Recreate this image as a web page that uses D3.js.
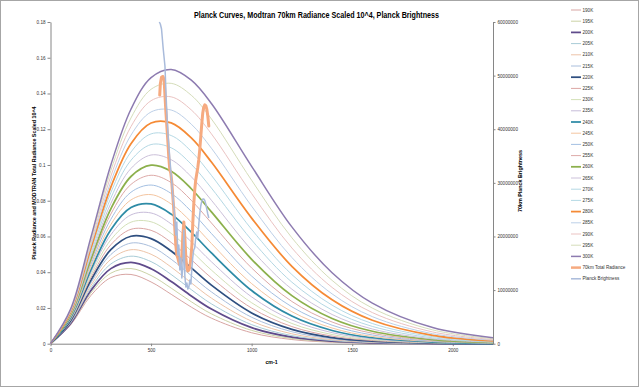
<!DOCTYPE html>
<html><head><meta charset="utf-8">
<script src="https://cdn.jsdelivr.net/npm/d3@7"></script>
<style>body{margin:0;background:#fff}svg{display:block}</style>
</head><body>
<svg id="chart" width="639" height="387"></svg>
<script>
// ---------- data ----------
const wavenumbers = [0,100,200,300,400,500,600,700,800,1000,1200,1400,1600,1900,2200];
const temperatures = ["190K","195K","200K","205K","210K","215K","220K","225K","230K","235K","240K","245K","250K","255K","260K","265K","270K","275K","280K","285K","290K","295K","300K"];
const p190 = [0,0.010517,0.026860,0.036976,0.038736,0.034547,0.027654,0.020476,0.014296,0.006129,0.0023281,0.00081294,0.00026686,0.00004608,0.00000738];
const p195 = [0,0.010912,0.028239,0.039466,0.042037,0.038159,0.031112,0.023474,0.016704,0.0074432,0.0029391,0.0010669,0.00036408,0.00006665,0.00001131];
const p200 = [0,0.011308,0.029630,0.042005,0.045449,0.041950,0.034803,0.026731,0.019369,0.0089520,0.0036674,0.0013813,0.00048907,0.000094618,0.00001697];
const p205 = [0,0.011705,0.031033,0.044590,0.048965,0.045915,0.038725,0.030251,0.022299,0.010671,0.0045271,0.0017659,0.00064758,0.00013206,0.000024965];
const p210 = [0,0.012103,0.032447,0.047219,0.052583,0.050051,0.042877,0.034035,0.025501,0.012613,0.0055325,0.0022314,0.00084609,0.00018140,0.000036058];
const p215 = [0,0.012501,0.033871,0.049890,0.056300,0.054353,0.047257,0.038089,0.028985,0.014795,0.0066987,0.0027891,0.0010918,0.00024555,0.000051196];
const p220 = [0,0.012901,0.035305,0.052600,0.060110,0.058817,0.051863,0.042412,0.032755,0.017229,0.0080405,0.0034510,0.0013926,0.00032781,0.000071540];
const p225 = [0,0.013300,0.036748,0.055347,0.064009,0.063439,0.056693,0.047006,0.036818,0.019928,0.0095731,0.0042297,0.0017571,0.00043207,0.000098494];
const p230 = [0,0.013701,0.038199,0.058130,0.067996,0.068215,0.061743,0.051871,0.041178,0.022906,0.011312,0.0051386,0.0021949,0.00056268,0.00013373];
const p235 = [0,0.014102,0.039659,0.060948,0.072066,0.073140,0.067010,0.057008,0.045840,0.026174,0.013272,0.0061915,0.0027159,0.00072460,0.00017923];
const p240 = [0,0.014503,0.041126,0.063796,0.076215,0.078210,0.072490,0.062413,0.050805,0.029744,0.015469,0.0074022,0.0033308,0.00092330,0.00023729];
const p245 = [0,0.014905,0.042600,0.066676,0.080441,0.083420,0.078179,0.068087,0.056077,0.033626,0.017918,0.0087855,0.0040511,0.0011649,0.00031058];
const p250 = [0,0.015307,0.044081,0.069585,0.084741,0.088766,0.084074,0.074027,0.061658,0.037830,0.020632,0.010356,0.0048887,0.0014562,0.00040215];
const p255 = [0,0.015710,0.045568,0.072522,0.089111,0.094245,0.090170,0.080231,0.067548,0.042366,0.023628,0.012129,0.0058562,0.0018044,0.00051548];
const p260 = [0,0.016113,0.047062,0.075484,0.093549,0.099851,0.096463,0.086696,0.073747,0.047240,0.026917,0.014120,0.0069666,0.0022176,0.00065445];
const p265 = [0,0.016517,0.048561,0.078472,0.098052,0.10558,0.10295,0.093421,0.080257,0.052462,0.030517,0.016344,0.0082336,0.0027042,0.00082347];
const p270 = [0,0.016921,0.050066,0.081484,0.10262,0.11143,0.10962,0.10040,0.087076,0.058039,0.034436,0.018815,0.0096709,0.0032735,0.0010273];
const p275 = [0,0.017326,0.051576,0.084519,0.10724,0.11740,0.11648,0.10763,0.094201,0.063975,0.038690,0.021551,0.011293,0.0039352,0.0012714];
const p280 = [0,0.017730,0.053091,0.087576,0.11193,0.12348,0.12352,0.11511,0.10163,0.070277,0.043290,0.024564,0.013114,0.0046996,0.0015615];
const p285 = [0,0.018135,0.054610,0.090653,0.11667,0.12967,0.13074,0.12283,0.10937,0.076950,0.048247,0.027872,0.015149,0.0055776,0.0019041];
const p290 = [0,0.018541,0.056134,0.093750,0.12146,0.13597,0.13812,0.13080,0.11741,0.083998,0.053573,0.031487,0.017414,0.0065808,0.0023060];
const p295 = [0,0.018946,0.057662,0.096867,0.12630,0.14236,0.14567,0.13900,0.12575,0.091422,0.059278,0.035425,0.019923,0.0077210,0.0027746];
const p300 = [0,0.019352,0.059195,0.10000,0.13119,0.14886,0.15339,0.14743,0.13438,0.099229,0.065370,0.039701,0.022692,0.0090106,0.0033179];

const wn70 = [543,546,552,559,565,569,574,579,584,588,593,598,603,608,613,618,623,628,633,638,643,648,653,658,663,668,673,678,683,688,693,698,703,707,712,717,722,727,732,737,742,747,752,757,762,767,772,777,782,787];
const rad70 = [0.1391,0.1453,0.1492,0.1495,0.1475,0.1391,0.1291,0.1207,0.1123,0.1045,0.0972,0.0955,0.0905,0.0826,0.0748,0.0647,0.0552,0.0496,0.0480,0.0457,0.0440,0.0452,0.0496,0.0608,0.0681,0.0592,0.0480,0.0424,0.0407,0.0412,0.0435,0.0480,0.0552,0.0664,0.0776,0.0859,0.0915,0.0950,0.0983,0.1028,0.1084,0.1156,0.1229,0.1291,0.1324,0.1336,0.1333,0.1313,0.1274,0.1218];

const wnPB = [541,546,552,560,569,577,585,593,602,610,618,623,628,633,638,643,648,653,658,663,668,673,678,683,688,693,698,703,707,712,717,722,727,732,737,742,747,752,757,762,767,772,777,782,787];
const brightness = [60000000,59630000,58700000,55150000,51790000,44150000,38550000,34630000,30530000,26800000,23630000,20270000,22700000,16550000,18410000,13750000,15980000,12250000,14120000,21210000,12630000,10580000,11320000,10200000,10580000,11880000,11130000,14120000,15980000,17480000,17850000,19710000,20830000,19710000,22140000,24190000,25680000,26610000,26990000,26990000,26710000,26060000,25120000,24190000,23440000];

const leftTicks = [0,0.02,0.04,0.06,0.08,0.1,0.12,0.14,0.16,0.18];
const rightTicks = [0,10000000,20000000,30000000,40000000,50000000,60000000];
const xTicks = [0,500,1000,1500,2000];
const extraNames = ["70km Total Radiance","Planck Brightness"];

// ---------- styles ----------
const planckSeries = [p190,p195,p200,p205,p210,p215,p220,p225,p230,p235,p240,p245,p250,p255,p260,p265,p270,p275,p280,p285,p290,p295,p300];
const colors = ["#D8A5A3","#CBD3A6","#5F4B8B","#A8CCD7","#EDC4A8","#A9BEDC","#2F4F80","#DCA6A4","#D3E0B8","#C7BCD9","#2E8BA6","#F4C5A0","#A4C0E2","#DDAAA8","#8CB04C","#CCC1DA","#B4D8E4","#B5D9E5","#F58A35","#BDD0E8","#EBC3C2","#D5DDBA","#8D7BB0"];
const widths = [1,1,1.75,1,1,1,1.75,1,1,1,1.75,1,1,1,1.75,1,1,1,1.75,1,1,1,1.5];
const c70 = "#F6AA80", cPB = "#A9BBDB";

const svg = d3.select("#chart");
const x = d3.scaleLinear().domain([0,2200]).range([50.5,493]);
const y = d3.scaleLinear().domain([0,0.18]).range([343.7,22]);
const y2 = d3.scaleLinear().domain([0,60000000]).range([343.7,22]);
const font = "'Liberation Sans', Arial, sans-serif";

svg.append("rect").attr("x",0.5).attr("y",0.5).attr("width",638).attr("height",386)
  .attr("fill","#fff").attr("stroke","#A6A6A6");

// axes
function styleAxis(g){
  g.selectAll("path.domain").attr("stroke","#868686");
  g.selectAll(".tick line").attr("stroke","#868686");
  g.selectAll(".tick text").attr("fill","#333").style("font-family",font).style("font-size","4.6px");
}
svg.append("g").attr("transform","translate(50.5,0)")
  .call(d3.axisLeft(y).tickValues(leftTicks).tickFormat(d3.format("~g")).tickSize(3).tickSizeOuter(0).tickPadding(2))
  .call(styleAxis);
svg.append("g").attr("transform","translate(0,343.7)")
  .call(d3.axisBottom(x).tickValues(xTicks).tickFormat(d3.format("d")).tickSize(2.5).tickSizeOuter(0).tickPadding(3))
  .call(styleAxis);
svg.append("g").attr("transform","translate(493,0)")
  .call(d3.axisRight(y2).tickValues(rightTicks).tickFormat(d3.format("d")).tickSize(2.5).tickSizeOuter(0).tickPadding(2))
  .call(styleAxis);

// lines
const line = d3.line().x(d=>x(d[0])).y(d=>y(d[1])).curve(d3.curveCatmullRom.alpha(0.5));
planckSeries.forEach((vals,i)=>{
  svg.append("path").attr("d",line(wavenumbers.map((w,j)=>[w,vals[j]])))
    .attr("fill","none").attr("stroke",colors[i]).attr("stroke-width",widths[i]);
});
const lineLin = d3.line().x(d=>x(d[0])).y(d=>y(d[1]));
svg.append("path").attr("d",lineLin(wn70.map((w,j)=>[w,rad70[j]])))
  .attr("fill","none").attr("stroke",c70).attr("stroke-width",3).attr("stroke-linejoin","round").attr("stroke-linecap","round");
const line2 = d3.line().x(d=>x(d[0])).y(d=>y2(d[1]));
svg.append("path").attr("d",line2(wnPB.map((w,j)=>[w,brightness[j]])))
  .attr("fill","none").attr("stroke",cPB).attr("stroke-width",1.5).attr("stroke-linejoin","round");

// titles
svg.append("text").attr("x",316.5).attr("y",17.5).attr("text-anchor","middle")
  .attr("textLength",245).attr("lengthAdjust","spacingAndGlyphs")
  .style("font-family","'Liberation Sans Narrow', 'Liberation Sans', Arial, sans-serif").style("font-weight","bold").style("font-size","9.5px").attr("fill","#000")
  .text("Planck Curves, Modtran 70km Radiance Scaled 10^4, Planck Brightness");
svg.append("text").attr("transform","translate(36,183) rotate(-90)").attr("text-anchor","middle")
  .attr("textLength",153).attr("lengthAdjust","spacingAndGlyphs")
  .style("font-family",font).style("font-weight","bold").style("font-size","5.2px").attr("fill","#000")
  .text("Planck Radiance and MODTRAN Total Radiance Scaled 10^4");
svg.append("text").attr("transform","translate(521.8,181) rotate(-90)").attr("text-anchor","middle")
  .attr("textLength",62).attr("lengthAdjust","spacingAndGlyphs")
  .style("font-family",font).style("font-weight","bold").style("font-size","5.2px").attr("fill","#000")
  .text("70km Planck Brightness");
svg.append("text").attr("x",271.5).attr("y",363.5).attr("text-anchor","middle")
  .style("font-family",font).style("font-weight","bold").style("font-size","5.2px").attr("fill","#000")
  .text("cm-1");

// legend
const legNames = temperatures.concat(extraNames);
const legColors = colors.concat([c70,cPB]);
const legWidths = widths.concat([2.5,1.5]);
const leg = svg.append("g");
legNames.forEach((n,i)=>{
  const yy = 10 + i*11.2;
  leg.append("line").attr("x1",571).attr("x2",581).attr("y1",yy).attr("y2",yy)
    .attr("stroke",legColors[i]).attr("stroke-width",legWidths[i]);
  leg.append("text").attr("x",582.5).attr("y",yy).attr("dy","0.35em")
    .style("font-family",font).style("font-size","4.6px").attr("fill","#333").text(n);
});
</script>
</body></html>
